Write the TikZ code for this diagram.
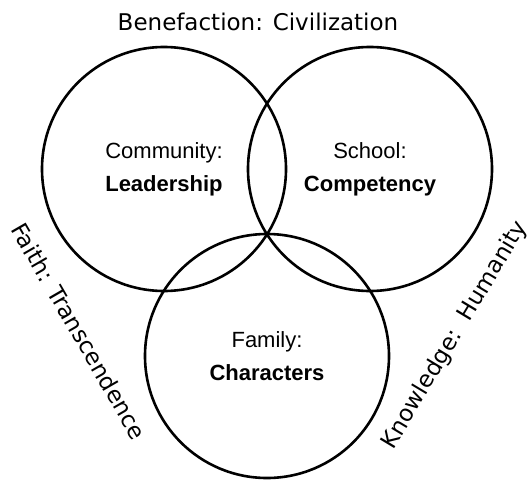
\documentclass[tikz,border=0pt]{standalone}
\usepackage{fontspec}
\setmainfont{Liberation Sans}
\newfontfamily\sidefont{DejaVu Sans}
\usepackage{tikz}
\usetikzlibrary{positioning}

\begin{document}
\begin{tikzpicture}[x=1pt, y=-1pt]
  \tikzstyle{venn}=[draw=black, circle, line width=2.6pt, minimum size=244pt, inner sep=0pt, align=center, font=\fontsize{22}{33}\selectfont]
  \tikzstyle{side}=[font=\sidefont\fontsize{23}{26}\selectfont, inner sep=0pt]
  \useasboundingbox (0,0) rectangle (530,482);

  % the three circles
  \node (community) at (164,169) [venn] {Community:\\ \textbf{Leadership}};
  \node (school) at (370,169) [venn] {School:\\ \textbf{Competency}};
  \node (family) at (267,356) [venn] {Family:\\ \textbf{Characters}};

  % labels round the outside
  \node (benefaction) at (258,22) [side] {Benefaction: Civilization};
  \node (faith) at (79,331) [side, rotate=-60] {Faith: Transcendence};
  \node (knowledge) at (455,335) [side, rotate=59] {Knowledge:\ \ Humanity};
\end{tikzpicture}
\end{document}
